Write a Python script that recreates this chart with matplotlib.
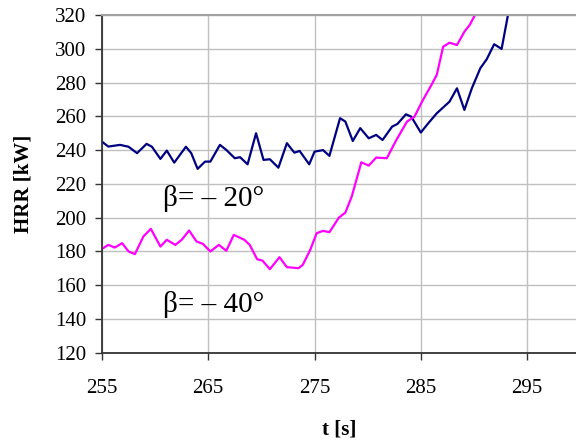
import matplotlib.pyplot as plt

plt.rcParams['font.family'] = ['Liberation Serif', 'DejaVu Serif']

# beta = -20 deg (navy)
t20 = [255.0, 255.6, 256.7, 257.5, 258.3, 259.2, 259.7, 260.5, 261.1, 261.8,
       262.9, 263.4, 264.0, 264.7, 265.2, 266.1, 266.7, 267.5, 268.0, 268.7,
       269.5, 270.2, 270.8, 271.6, 272.4, 273.1, 273.6, 274.5, 275.0, 275.8,
       276.4, 277.4, 277.9, 278.6, 279.3, 280.1, 280.8, 281.4, 282.3, 282.8,
       283.6, 284.1, 285.0, 285.7, 286.5, 287.7, 288.4, 289.1, 289.8, 290.6,
       291.2, 291.9, 292.6, 293.2, 293.5]
hrr20 = [245.0, 242.1, 243.1, 242.0, 238.2, 243.7, 242.0, 234.8, 239.7, 232.6,
         242.0, 238.2, 228.9, 233.2, 233.2, 243.1, 240.1, 235.2, 235.8, 231.6,
         250.0, 234.2, 234.6, 229.6, 244.1, 238.5, 239.5, 231.6, 239.1, 240.0,
         236.6, 258.9, 256.9, 245.4, 253.0, 247.0, 249.0, 246.0, 253.9, 255.5,
         261.2, 259.8, 250.4, 255.9, 261.8, 268.7, 276.6, 263.8, 276.6, 288.5,
         293.8, 302.7, 299.9, 320.0, 330.0]

# beta = -40 deg (magenta)
t40 = [255.0, 255.6, 256.2, 256.9, 257.5, 258.1, 258.9, 259.6, 260.5, 261.1,
       261.9, 262.5, 263.2, 263.9, 264.5, 265.2, 266.0, 266.7, 267.4, 268.4,
       268.9, 269.6, 270.1, 270.8, 271.7, 272.4, 273.5, 273.9, 274.6, 275.2,
       275.8, 276.4, 277.3, 277.9, 278.5, 279.1, 279.4, 280.1, 280.8, 281.8,
       282.7, 283.7, 284.4, 285.2, 286.0, 286.5, 287.1, 287.7, 288.4, 289.1,
       289.6, 290.1, 290.5]
hrr40 = [181.5, 183.9, 182.3, 184.9, 180.0, 178.4, 188.9, 193.4, 182.9, 186.9,
         183.9, 186.9, 192.4, 185.9, 184.5, 180.0, 183.9, 180.4, 189.8, 186.9,
         183.9, 175.4, 174.6, 169.5, 176.6, 170.7, 170.1, 172.1, 181.0, 190.8,
         192.2, 191.4, 200.1, 203.0, 212.5, 226.0, 232.8, 230.8, 235.6, 235.2,
         246.0, 256.9, 259.8, 269.7, 278.6, 284.5, 301.2, 303.6, 302.2, 310.1,
         314.1, 320.0, 326.0]

xticks = [255, 265, 275, 285, 295]
yticks = list(range(120, 321, 20))

fig = plt.figure(figsize=(5.76, 4.41), dpi=100)
ax = fig.add_axes([0.177, 0.2, 0.823, 0.766])

ax.plot(t20, hrr20, color='#000080', lw=1.6)
ax.plot(t40, hrr40, color='#ff00ff', lw=1.6)

ax.set_xlim(255, 299.6)
ax.set_ylim(120, 320)
ax.set_xticks(xticks)
ax.set_yticks(yticks)
ax.grid(True, color='#c0c0c0', lw=1)
ax.set_axisbelow(True)

ax.spines['right'].set_visible(False)
ax.spines['top'].set_color('#a0a0a0')
ax.spines['top'].set_linewidth(1.5)
ax.spines['left'].set_color('#333333')
ax.spines['bottom'].set_color('#333333')
ax.spines['left'].set_linewidth(1.3)
ax.spines['bottom'].set_linewidth(1.3)
ax.tick_params(direction='out', length=5, width=1, labelsize=15, color='#333333')
ax.tick_params(axis='x', pad=14)
ax.tick_params(axis='y', pad=6)

ax.set_xlabel('t [s]', fontsize=15, fontweight='bold', labelpad=15)
ax.set_ylabel('HRR [kW]', fontsize=15, fontweight='bold', labelpad=16)

ax.text(260.7, 211.5, 'β= – 20°', fontsize=21, va='center')
ax.text(260.7, 148.5, 'β= – 40°', fontsize=21, va='center')

plt.savefig('out.png', dpi=100)
